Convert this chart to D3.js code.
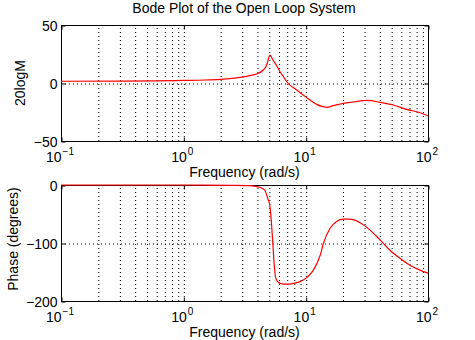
<!DOCTYPE html>
<html>
<head>
<meta charset="utf-8">
<script src="https://cdn.jsdelivr.net/npm/d3@7"></script>
<style>
  html, body { margin: 0; padding: 0; background: #fff; }
  svg { display: block; font-family: "Liberation Sans", Arial, Helvetica, sans-serif; }
</style>
</head>
<body>
<svg id="chart" width="475" height="340"></svg>
<script>
// ---- Data ----
const magFreq = [0.1, 0.3, 0.6, 1, 1.5, 2, 2.5, 3, 3.5, 3.97, 4.5, 4.8, 4.93, 5.1, 5.4, 5.8, 6.17, 6.6, 7.0, 8.45, 10.2, 12.3, 13.8, 14.9, 16.8, 20.3, 24.4, 31.8, 40.8, 52, 67, 86, 100];
const magDb   = [1.5, 1.6, 1.8, 2.2, 2.6, 3.2, 4.0, 5.0, 6.4, 7.8, 11.2, 15.5, 19.8, 24, 19.8, 14.9, 9.7, 5.4, 1.1, -6, -12.6, -18.4, -20.4, -21, -19.5, -17.5, -16.4, -15, -16.7, -19, -22.7, -25.6, -28.2];

const phFreq = [0.1, 1, 2.4, 3.5, 3.9, 4.47, 4.64, 4.93, 5.05, 5.17, 5.37, 5.52, 5.7, 6.16, 7.0, 7.95, 9.0, 10.2, 11.6, 13.2, 14.0, 15.8, 17.9, 20.3, 23, 27.6, 33.3, 40, 48.6, 58.6, 70.7, 85, 100];
const phDeg  = [0, 0, -0.5, -1, -2.4, -6.4, -9, -25, -31, -48, -95, -135, -161, -169.5, -171, -169.5, -166.6, -159.7, -146.4, -120, -100, -75, -63, -59, -59, -64.6, -77, -93.4, -112, -126, -138, -146.4, -152];

const decadeTicks = [0.1, 1, 10, 100];
const decadeExp   = ["−1", "0", "1", "2"];
const magTicks = [-50, 0, 50];
const phTicks  = [-200, -100, 0];
const minorGrid = [0.2,0.3,0.4,0.5,0.6,0.7,0.8,0.9,1,2,3,4,5,6,7,8,9,10,20,30,40,50,60,70,80,90];

const titleText = "Bode Plot of the Open Loop System";
const xLabel = "Frequency (rad/s)";
const magLabel = "20logM";
const phLabel = "Phase (degrees)";

// ---- Layout ----
const svg = d3.select("#chart");
const L = 61, R = 428;
const x = d3.scaleLog().domain([0.1, 100]).range([L, R]);

const panels = [
  { top: 25, bottom: 141, domain: [-50, 50], ticks: magTicks, grid: [0], xs: magFreq, ys: magDb, ylabel: magLabel, ylabX: 25, ylabY: 83 },
  { top: 185, bottom: 301, domain: [-200, 0], ticks: phTicks, grid: [-100], xs: phFreq, ys: phDeg, ylabel: phLabel, ylabX: 18, ylabY: 239 }
];

const fmt = d => (d < 0 ? "−" + Math.abs(d) : String(d));

panels.forEach(p => {
  const y = d3.scaleLinear().domain(p.domain).range([p.bottom, p.top]);
  const h = p.bottom - p.top;
  const g = svg.append("g");

  // vertical dotted grid
  const gx = g.append("g").attr("transform", `translate(0.5,${p.bottom})`)
    .call(d3.axisBottom(x).tickValues(minorGrid).tickSize(-h).tickFormat(""));
  gx.select(".domain").remove();
  gx.selectAll("line").attr("stroke", "#000").attr("stroke-dasharray", "1,3");

  // horizontal dotted grid
  const gy = g.append("g").attr("transform", `translate(${L},0.5)`)
    .call(d3.axisLeft(y).tickValues(p.grid).tickSize(-(R - L)).tickFormat(""));
  gy.select(".domain").remove();
  gy.selectAll("line").attr("stroke", "#000").attr("stroke-dasharray", "1,3");

  // frame
  g.append("rect").attr("x", L + 0.5).attr("y", p.top + 0.5)
    .attr("width", R - L).attr("height", h)
    .attr("fill", "none").attr("stroke", "#000").attr("stroke-width", 1);

  // inward ticks
  const ax = d3.axisLeft(y).tickValues(p.ticks).tickSize(-4).tickPadding(4).tickFormat(fmt);
  const la = g.append("g").attr("transform", `translate(${L + 0.5},0.5)`).call(ax);
  la.select(".domain").remove();
  la.selectAll("text").attr("font-size", 14).attr("font-family", "Liberation Sans, Arial, sans-serif").attr("fill", "#000").attr("dy", "0.34em");
  la.selectAll("line").attr("stroke", "#000");

  const ra = g.append("g").attr("transform", `translate(${R + 0.5},0.5)`)
    .call(d3.axisRight(y).tickValues(p.ticks).tickSize(-4).tickFormat(""));
  ra.select(".domain").remove();
  ra.selectAll("line").attr("stroke", "#000");

  const ba = g.append("g").attr("transform", `translate(0.5,${p.bottom + 0.5})`)
    .call(d3.axisBottom(x).tickValues(decadeTicks).tickSize(-4).tickFormat(""));
  ba.select(".domain").remove();
  ba.selectAll("line").attr("stroke", "#000");

  const ta = g.append("g").attr("transform", `translate(0.5,${p.top + 0.5})`)
    .call(d3.axisTop(x).tickValues(decadeTicks).tickSize(-4).tickFormat(""));
  ta.select(".domain").remove();
  ta.selectAll("line").attr("stroke", "#000");

  // x tick labels with superscript exponent
  const xl = g.append("g").selectAll("text").data(decadeTicks).join("text")
    .attr("x", d => x(d) - 1)
    .attr("y", p.bottom + 20.5)
    .attr("text-anchor", "middle")
    .attr("font-size", 14)
    .attr("fill", "#000");
  xl.append("tspan").text("10");
  xl.append("tspan").attr("dy", -7).attr("dx", 1).attr("font-size", 10).text((d, i) => decadeExp[i]);

  // x label
  g.append("text").attr("x", (L + R) / 2).attr("y", p.bottom + 36)
    .attr("text-anchor", "middle").attr("font-size", 14).attr("fill", "#000").text(xLabel);

  // y label
  g.append("text").attr("transform", `translate(${p.ylabX},${p.ylabY}) rotate(-90)`)
    .attr("text-anchor", "middle").attr("font-size", 14).attr("fill", "#000").text(p.ylabel);

  // curve
  const pts = p.xs.map((f, i) => [f, p.ys[i]]);
  g.append("path").datum(pts)
    .attr("fill", "none").attr("stroke", "#ff0000").attr("stroke-width", 1.2)
    .attr("d", d3.line().x(d => x(d[0])).y(d => y(d[1])).curve(d3.curveMonotoneX));
});

// title
svg.append("text").attr("x", 244).attr("y", 13).attr("text-anchor", "middle")
  .attr("font-size", 14).attr("fill", "#000").text(titleText);
</script>
</body>
</html>
